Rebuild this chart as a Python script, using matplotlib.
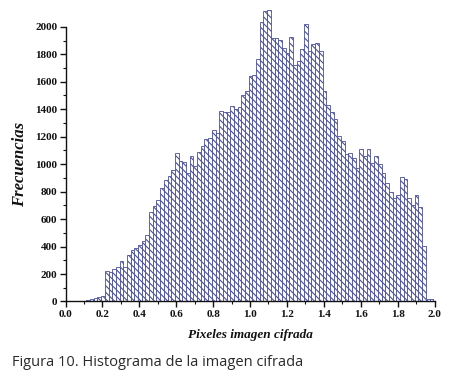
import numpy as np
import matplotlib
matplotlib.use("Agg")
import matplotlib.pyplot as plt
from matplotlib.ticker import MultipleLocator

# Histogram data: bins of width 0.02 starting at 0.093
bin_start = 0.093
bin_width = 0.02
counts = [
    3, 8, 15, 25, 35, 42,
    222, 212, 235, 254, 297, 254, 339, 375, 392, 410, 440, 485, 650, 696,
    740, 825, 886, 917, 960, 1080, 1024, 1019, 937, 1056,
    983, 1088, 1129, 1182, 1190, 1250, 1226, 1389, 1379, 1379,
    1427, 1401, 1413, 1500, 1535, 1639, 1651, 1765, 2035, 2113,
    2125, 1919, 1919, 1901, 1846, 1809, 1926, 1719, 1748, 1839,
    2021, 1821, 1877, 1882, 1821, 1530, 1432, 1379, 1328, 1206,
    1165, 1075, 1080, 1044, 971, 1112, 1056, 1110, 1012, 1056,
    1000, 935, 866, 800, 752, 776, 905, 891, 752, 703,
    776, 687, 407, 20, 15,
]
xticks = [0.0, 0.2, 0.4, 0.6, 0.8, 1.0, 1.2, 1.4, 1.6, 1.8, 2.0]
yticks = [0, 200, 400, 600, 800, 1000, 1200, 1400, 1600, 1800, 2000]
xlabel = "Pixeles imagen cifrada"
ylabel = "Frecuencias"
caption = "Figura 10. Histograma de la imagen cifrada"

edges = bin_start + bin_width * np.arange(len(counts))

plt.rcParams['hatch.color'] = '#6f74bc'
plt.rcParams['hatch.linewidth'] = 0.8

fig = plt.figure(figsize=(4.5, 3.83), dpi=100)
ax = fig.add_axes([0.1456, 0.2128, 0.82, 0.7172])

bars = ax.bar(edges, counts, width=bin_width, align='edge', color='white',
              edgecolor='#4a4f9e', linewidth=0.6, hatch='\\\\\\\\\\', clip_on=False)

ax.set_xlim(0, 2.0)
ax.set_ylim(0, 2000)
ax.set_xticks(xticks)
ax.set_yticks(yticks)
ax.set_xticklabels([f"{v:.1f}" for v in xticks])
ax.set_yticklabels([str(v) for v in yticks])
ax.xaxis.set_minor_locator(MultipleLocator(0.1))
ax.yaxis.set_minor_locator(MultipleLocator(100))

for s in ['top', 'right']:
    ax.spines[s].set_visible(False)
for s in ['left', 'bottom']:
    ax.spines[s].set_linewidth(1.0)
    ax.spines[s].set_color('#111111')
    ax.spines[s].set_zorder(5)

ax.tick_params(which='major', direction='out', length=4, width=1.0, color='#111111', pad=2)
ax.tick_params(which='minor', direction='out', length=2, width=0.8, color='#111111')
for lab in ax.get_xticklabels() + ax.get_yticklabels():
    lab.set_fontfamily('Liberation Serif')
    lab.set_fontweight('bold')
    lab.set_fontsize(8)
    lab.set_color('#111111')

ax.set_xlabel(xlabel, fontfamily='Liberation Serif', fontweight='bold',
              fontstyle='italic', fontsize=9.5, labelpad=7, color='#111111')
ax.set_ylabel(ylabel, fontfamily='Liberation Serif', fontweight='bold',
              fontstyle='italic', fontsize=12, labelpad=5, color='#111111')

fig.text(0.027, 0.045, caption, fontfamily='Open Sans', fontsize=10.5,
         color='#2a2a2a', ha='left', va='baseline')

fig.savefig('out.png', dpi=100)
